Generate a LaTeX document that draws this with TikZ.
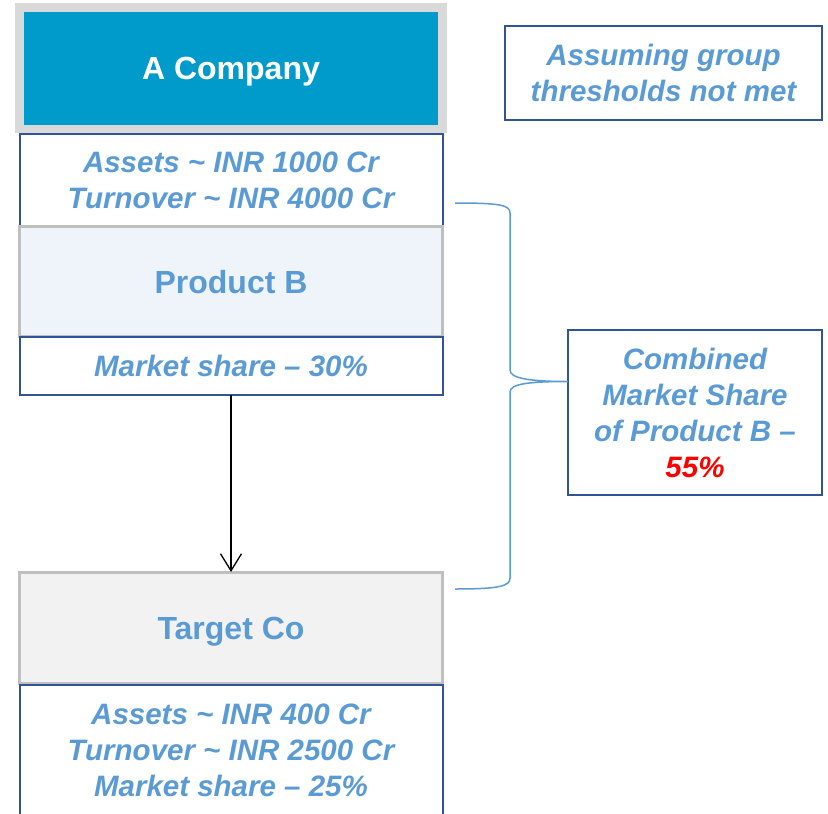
\documentclass[tikz,border=0pt]{standalone}
\usepackage{fontspec}
\setmainfont{Liberation Sans}
\usepackage{xcolor}
\usetikzlibrary{positioning, arrows.meta}

\definecolor{headblue}{RGB}{0,155,203}
\definecolor{headgray}{RGB}{217,217,217}
\definecolor{txtblue}{RGB}{91,155,213}
\definecolor{edgeblue}{RGB}{47,85,151}
\definecolor{unitgray}{RGB}{191,191,191}
\definecolor{prodfill}{RGB}{238,244,250}
\definecolor{targetfill}{RGB}{242,242,242}

\begin{document}
\begin{tikzpicture}[x=1pt, y=-1pt,
    box node/.style={rectangle, minimum width=423pt, inner sep=0pt, outer sep=0pt, align=center},
    head node/.style={box node, draw=headgray, line width=8.5pt, fill=headblue, text=white, text height=23pt, text depth=0pt, font=\fontsize{32}{38}\selectfont\bfseries},
    info node/.style={box node, draw=edgeblue, line width=2pt, fill=white, text=txtblue, font=\fontsize{29.5}{36}\selectfont\bfseries\itshape},
    unit node/.style={box node, draw=unitgray, line width=3pt, text=txtblue, text height=23pt, text depth=0pt, font=\fontsize{32}{38}\selectfont\bfseries},
    brace line/.style={draw=txtblue, line width=1.5pt}]
    \useasboundingbox (0,0) rectangle (828,814);

    \node[head node, minimum height=121.5pt] (AC) at (231,68.25) {A Company};
    \node[info node, minimum height=92.5pt] (ACinfo) [below=5pt of AC] {Assets \textasciitilde{} INR 1000 Cr\\Turnover \textasciitilde{} INR 4000 Cr};
    \node[unit node, fill=prodfill, minimum height=110pt] (PB) [below=0pt of ACinfo] {Product B};
    \node[info node, minimum height=58pt] (PBshare) [below=0pt of PB] {Market share – 30\%};
    \node[unit node, fill=targetfill, minimum height=111.5pt] (TC) [below=177.5pt of PBshare] {Target Co};
    \node[info node, minimum height=132pt] (TCinfo) [below=1pt of TC] {Assets \textasciitilde{} INR 400 Cr\\Turnover \textasciitilde{} INR 2500 Cr\\Market share – 25\%};

    \node[info node, minimum width=317pt, minimum height=94pt] (note) at (663.5,73) {Assuming group\\thresholds not met};
    \node[info node, minimum width=254pt, minimum height=165pt] (combined) at (695,412.5) {Combined\\Market Share\\of Product B –\\{\color{red}55\%}};

    \draw[line width=1.3pt, -{Straight Barb[length=17pt, width=21pt]}] (PBshare) -- (TC);

    % brace round both companies
    \coordinate (bracetop) at (455,203);
    \coordinate (bracebot) at (455,589);
    \coordinate (bracetip) at ([yshift=31pt]combined.west);
    \draw[brace line] (bracetop) .. controls +(45,0) and +(0,-8) .. (510,213) -- (510,370)
        .. controls +(0,8) and +(-40,0) .. (bracetip)
        .. controls +(-40,0) and +(0,-8) .. (510,392) -- (510,578)
        .. controls +(0,8) and +(45,0) .. (bracebot);
\end{tikzpicture}
\end{document}
